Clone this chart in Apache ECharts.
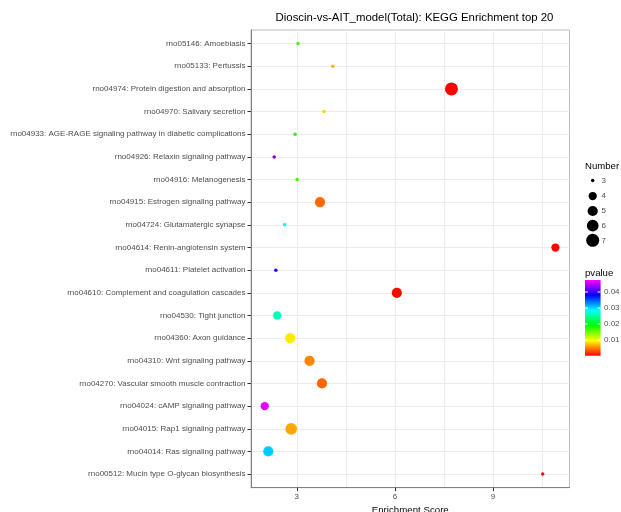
<!DOCTYPE html>
<html>
<head>
<meta charset="utf-8">
<script src="https://cdn.jsdelivr.net/npm/echarts@6/dist/echarts.min.js"></script>
<style>html,body{margin:0;padding:0;background:#fff}#c{width:621px;height:512px}</style>
</head>
<body>
<div id="c"></div>
<script>
// Pathways, top to bottom
const categories = [
  "rno05146: Amoebiasis",
  "rno05133: Pertussis",
  "rno04974: Protein digestion and absorption",
  "rno04970: Salivary secretion",
  "rno04933: AGE-RAGE signaling pathway in diabetic complications",
  "rno04926: Relaxin signaling pathway",
  "rno04916: Melanogenesis",
  "rno04915: Estrogen signaling pathway",
  "rno04724: Glutamatergic synapse",
  "rno04614: Renin-angiotensin system",
  "rno04611: Platelet activation",
  "rno04610: Complement and coagulation cascades",
  "rno04530: Tight junction",
  "rno04360: Axon guidance",
  "rno04310: Wnt signaling pathway",
  "rno04270: Vascular smooth muscle contraction",
  "rno04024: cAMP signaling pathway",
  "rno04015: Rap1 signaling pathway",
  "rno04014: Ras signaling pathway",
  "rno00512: Mucin type O-glycan biosynthesis"
];
const enrichmentScore = [3.04, 4.10, 7.73, 3.83, 2.95, 2.31, 3.01, 3.71, 2.63, 10.91,
                         2.36, 6.06, 2.40, 2.80, 3.39, 3.77, 2.02, 2.83, 2.13, 10.52];
const pvalue = [0.0168, 0.0068, 0.0003, 0.0080, 0.0180, 0.0430, 0.0168, 0.0041, 0.0280, 0.0003,
                0.0393, 0.0005, 0.0260, 0.0089, 0.0052, 0.0040, 0.0465, 0.0064, 0.0305, 0.0003];
const number = [3, 3, 7, 3, 3, 3, 3, 5, 3, 4,
                3, 5, 4, 5, 5, 5, 4, 6, 5, 3];

const xTicks = [3, 6, 9];
const xMinorGrid = [4.5, 7.5, 10.5];
const sizeLegend = [3, 4, 5, 6, 7];
const pvalueTicks = [0.01, 0.02, 0.03, 0.04];
const pMin = 0.0002, pMax = 0.0475;
const nMin = 3, nMax = 7;
const rainbow = ['#FF0000', '#FFFF00', '#00FF00', '#00FFFF', '#0000FF', '#FF00FF'];

function diam(n) {
  const s = 1 + 5 * Math.sqrt((n - nMin) / (nMax - nMin));
  return 1.9 * s + 1.6;
}

const data = categories.map((c, i) => [enrichmentScore[i], i, pvalue[i], number[i]]);
const idx = categories.map((c, i) => i);

const chart = echarts.init(document.getElementById('c'), null, {renderer: 'canvas'});
const FONT = 'Liberation Sans, Arial, Helvetica, sans-serif';
const gridL = 251, gridT = 30, gridR = 51.5, gridB = 24.3;
const tickFont = 8;

// legend graphics
const g = [];
g.push({type: 'text', x: 414.5, y: 17.5, style: {text: 'Dioscin-vs-AIT_model(Total): KEGG Enrichment top 20', font: '11.4px ' + FONT, fill: '#000', textAlign: 'center', textVerticalAlign: 'middle'}});
g.push({type: 'text', x: 585, y: 166, style: {text: 'Number', font: '9.6px ' + FONT, fill: '#000', textAlign: 'left', textVerticalAlign: 'middle'}});
const sizeY = [180.5, 196, 211, 225.7, 240.3];
sizeLegend.forEach((n, k) => {
  g.push({type: 'circle', shape: {cx: 592.7, cy: sizeY[k], r: diam(n) / 2}, style: {fill: '#000'}});
  g.push({type: 'text', x: 601.5, y: sizeY[k], style: {text: String(n), font: tickFont + 'px ' + FONT, fill: '#4d4d4d', textAlign: 'left', textVerticalAlign: 'middle'}});
});
g.push({type: 'text', x: 585, y: 273, style: {text: 'pvalue', font: '9.6px ' + FONT, fill: '#000', textAlign: 'left', textVerticalAlign: 'middle'}});
const barTop = 280, barBot = 355.7, barX = 585, barW = 15.6;
const stops = rainbow.map((c, k) => ({offset: 1 - k / (rainbow.length - 1), color: c}));
g.push({type: 'rect', shape: {x: barX, y: barTop, width: barW, height: barBot - barTop},
  style: {fill: new echarts.graphic.LinearGradient(0, 0, 0, 1, stops)}});
pvalueTicks.forEach(p => {
  const y = barBot - (p - pMin) / (pMax - pMin) * (barBot - barTop);
  g.push({type: 'line', shape: {x1: barX, y1: y, x2: barX + 3, y2: y}, style: {stroke: '#fff', lineWidth: 1}});
  g.push({type: 'line', shape: {x1: barX + barW - 3, y1: y, x2: barX + barW, y2: y}, style: {stroke: '#fff', lineWidth: 1}});
  g.push({type: 'text', x: 604, y: y, style: {text: String(p), font: tickFont + 'px ' + FONT, fill: '#4d4d4d', textAlign: 'left', textVerticalAlign: 'middle'}});
});

const option = {
  backgroundColor: '#fff',
  animation: false,
  textStyle: {fontFamily: FONT},
  grid: {left: gridL, right: gridR, top: gridT, bottom: gridB, show: true, borderColor: '#bdbdbd', borderWidth: 1,
         backgroundColor: '#fff', containLabel: false, outerBoundsMode: 'none'},
  xAxis: [{
    type: 'value', min: 1.6, max: 11.34,
    name: 'Enrichment Score', nameLocation: 'middle', nameGap: 15,
    nameTextStyle: {fontSize: 9.7, color: '#000', fontFamily: FONT},
    axisLine: {show: true, onZero: false, lineStyle: {color: '#808080', width: 1}},
    axisTick: {show: false, customValues: xTicks.concat(xMinorGrid)},
    axisLabel: {customValues: xTicks, color: '#4d4d4d', fontSize: tickFont, margin: 5, fontFamily: FONT},
    splitLine: {show: true, lineStyle: {color: '#ebebeb', width: 1}}
  }, {
    type: 'value', min: 1.6, max: 11.34, position: 'bottom',
    axisLine: {show: false, onZero: false},
    axisTick: {show: true, customValues: xTicks, length: 3.5, lineStyle: {color: '#333'}},
    axisLabel: {show: false},
    splitLine: {show: false}
  }],
  yAxis: {
    type: 'value', inverse: true, min: -0.6, max: categories.length - 1 + 0.6,
    axisLine: {show: true, onZero: false, lineStyle: {color: '#808080', width: 1}},
    axisTick: {show: true, customValues: idx, length: 3.5, lineStyle: {color: '#333'}},
    axisLabel: {customValues: idx, formatter: v => categories[Math.round(v)], color: '#4d4d4d', fontSize: tickFont, margin: 5.5, fontFamily: FONT},
    splitLine: {show: true, lineStyle: {color: '#ebebeb', width: 1}}
  },
  visualMap: [{
    type: 'continuous', show: false, dimension: 2, min: pMin, max: pMax, seriesIndex: 0,
    inRange: {color: rainbow}
  }],
  series: [{
    type: 'scatter', xAxisIndex: 0, yAxisIndex: 0,
    data: data,
    encode: {x: 0, y: 1},
    symbol: 'circle',
    symbolSize: v => diam(v[3]),
    itemStyle: {opacity: 1}
  }],
  graphic: g
};
chart.setOption(option);
</script>
</body>
</html>
